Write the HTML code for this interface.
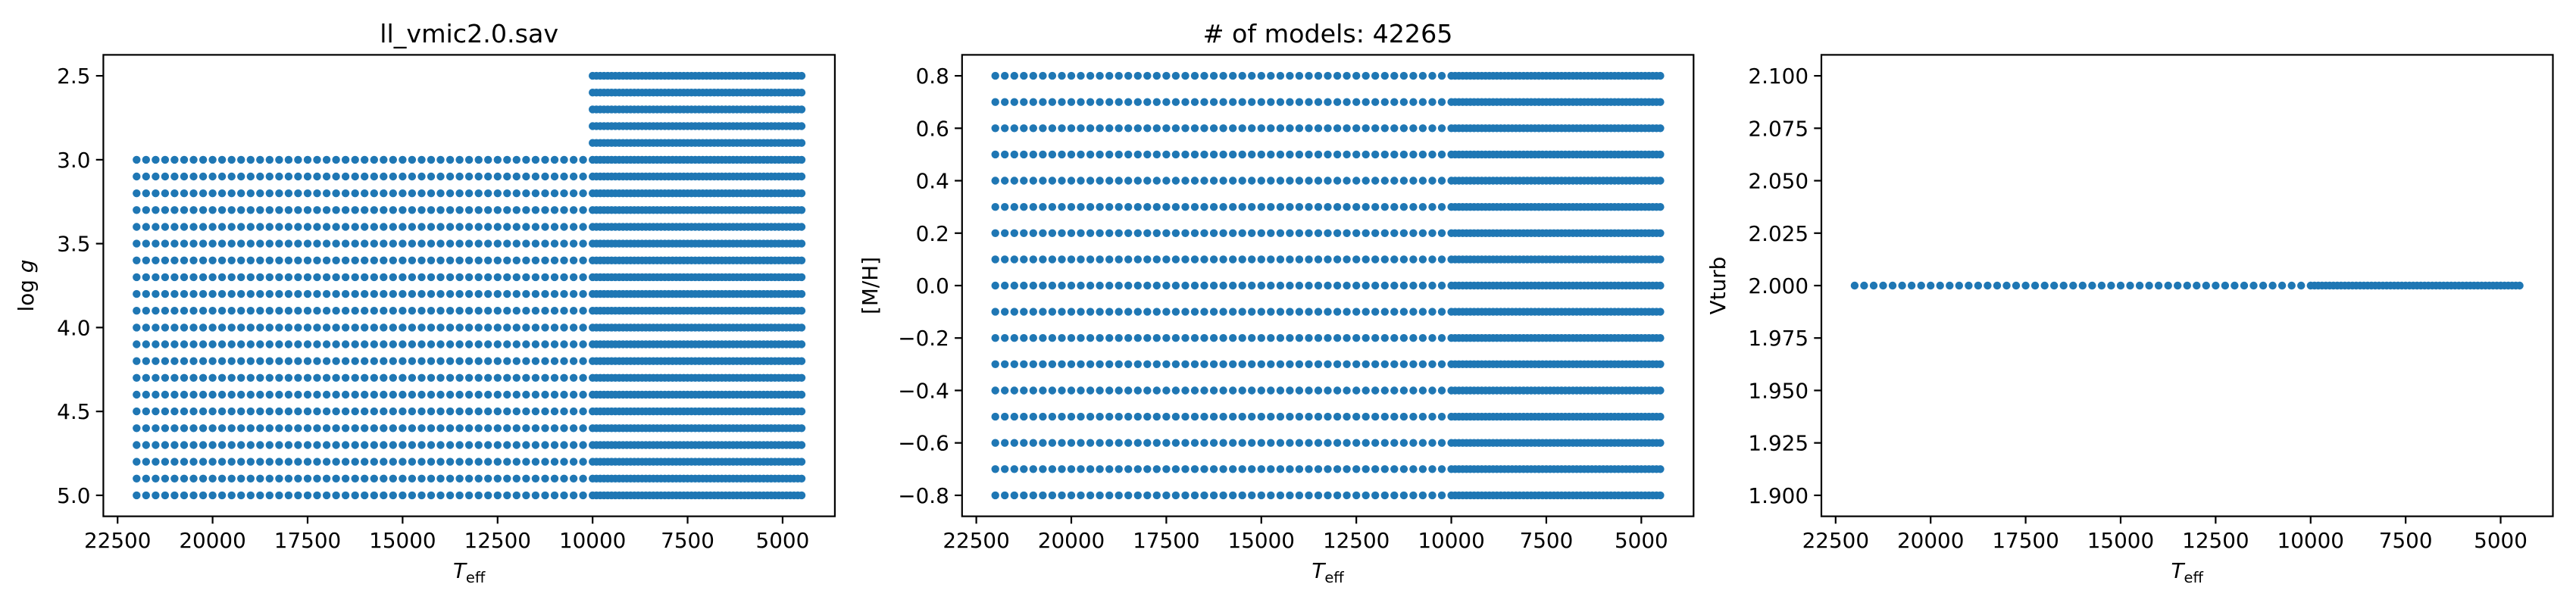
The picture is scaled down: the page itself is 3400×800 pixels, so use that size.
<!DOCTYPE html>
<html><head><meta charset="utf-8"><style>
html,body{margin:0;padding:0;background:#fff;}
svg{display:block;font-family:"DejaVu Sans","Liberation Sans",sans-serif;}
</style></head><body>
<svg id="fig" width="3400" height="800" viewBox="0 0 3400 800" xmlns="http://www.w3.org/2000/svg"></svg>
<script>
const teffHot = [10250,10500,10750,11000,11250,11500,11750,12000,12250,12500,12750,13000,13250,13500,13750,14000,14250,14500,14750,15000,15250,15500,15750,16000,16250,16500,16750,17000,17250,17500,17750,18000,18250,18500,18750,19000,19250,19500,19750,20000,20250,20500,20750,21000,21250,21500,21750,22000];
const teffCool = [4500,4600,4700,4800,4900,5000,5100,5200,5300,5400,5500,5600,5700,5800,5900,6000,6100,6200,6300,6400,6500,6600,6700,6800,6900,7000,7100,7200,7300,7400,7500,7600,7700,7800,7900,8000,8100,8200,8300,8400,8500,8600,8700,8800,8900,9000,9100,9200,9300,9400,9500,9600,9700,9800,9900,10000];
const loggHot = [3.0,3.1,3.2,3.3,3.4,3.5,3.6,3.7,3.8,3.9,4.0,4.1,4.2,4.3,4.4,4.5,4.6,4.7,4.8,4.9,5.0];
const loggCool = [2.5,2.6,2.7,2.8,2.9,3.0,3.1,3.2,3.3,3.4,3.5,3.6,3.7,3.8,3.9,4.0,4.1,4.2,4.3,4.4,4.5,4.6,4.7,4.8,4.9,5.0];
const mhVals = [-0.8,-0.7,-0.6,-0.5,-0.4,-0.3,-0.2,-0.1,0.0,0.1,0.2,0.3,0.4,0.5,0.6,0.7,0.8];
const vturbVals = [2.0];
const xTicks = [22500,20000,17500,15000,12500,10000,7500,5000];
const loggTicks = [2.5,3.0,3.5,4.0,4.5,5.0];
const mhTicks = [-0.8,-0.6,-0.4,-0.2,0.0,0.2,0.4,0.6,0.8];
const vtTicks = [1.900,1.925,1.950,1.975,2.000,2.025,2.050,2.075,2.100];

const NS="http://www.w3.org/2000/svg";
const svg=document.getElementById('fig');
function mk(tag,attrs,parent){const e=document.createElementNS(NS,tag);for(const k in attrs)e.setAttribute(k,attrs[k]);(parent||svg).appendChild(e);return e;}
const TOP=72.4,BOT=681.6,W=965.5,XMIN=3625,XMAX=22875;
const COLOR="#1f77b4";

function panel(idx,left,yMin,yMax,yTicks,fmt,yLabel,yLabelX,title,series){
  const g=mk('g',{});
  
  
  const xs=t=>left+(XMAX-t)/(XMAX-XMIN)*W;
  const ys=v=>TOP+(v-yMin)/(yMax-yMin)*(BOT-TOP);
  const pts=mk('g',{fill:COLOR},g);
  
  
  series.forEach(s=>{s.t.forEach(t=>{s.y.forEach(v=>{
    mk('circle',{cx:xs(t).toFixed(1),cy:ys(v).toFixed(1),r:5.2},pts);
  });});});
  const fr=mk('rect',{x:left,y:TOP,width:W,height:BOT-TOP,fill:'none',stroke:'#000','stroke-width':2.2},g);
  
  
  xTicks.forEach(t=>{
    const x=xs(t);
    mk('line',{x1:x,x2:x,y1:BOT,y2:BOT+9.7,stroke:'#000','stroke-width':2.2},g);
    const tx=mk('text',{x:x,y:723,'font-size':27.8,'text-anchor':'middle'},g);
    tx.textContent=String(t);
    
    
  });
  yTicks.forEach(v=>{
    const y=ys(v);
    mk('line',{x1:left-9.7,x2:left,y1:y,y2:y,stroke:'#000','stroke-width':2.2},g);
    const tx=mk('text',{x:left-17,y:y+10,'font-size':27.8,'text-anchor':'end'},g);
    tx.textContent=fmt(v);
    
    
  });
  const xl=mk('text',{x:left+W/2,y:763,'font-size':27.8,'text-anchor':'middle'},g);
  xl.innerHTML='<tspan font-style="italic">T</tspan><tspan font-size="19.5" dy="6">eff</tspan>';
  
  
  const yl=mk('text',{x:yLabelX,y:(TOP+BOT)/2,'font-size':27.8,'text-anchor':'middle',transform:`rotate(-90 ${yLabelX} ${(TOP+BOT)/2})`},g);
  yl.innerHTML=yLabel;
  
  
  if(title){
    const tt=mk('text',{x:left+W/2,y:56,'font-size':33.3,'text-anchor':'middle'},g);
    tt.textContent=title;
    
    
  }
}
const m=v=>(v<0?'\u2212':'')+Math.abs(v).toFixed(1);
panel(1,136.4,2.375,5.125,loggTicks,v=>v.toFixed(1),'log<tspan font-style="italic"> g</tspan>',44,'ll_vmic2.0.sav',
  [{t:teffHot,y:loggHot},{t:teffCool,y:loggCool}]);
panel(2,1269.8,0.88,-0.88,mhTicks,m,'[M/H]',1158,'# of models: 42265',
  [{t:teffHot,y:mhVals},{t:teffCool,y:mhVals}]);
panel(3,2404,2.11,1.89,vtTicks,v=>v.toFixed(3),'Vturb',2277,null,
  [{t:teffHot,y:vturbVals},{t:teffCool,y:vturbVals}]);
</script>
</body></html>
